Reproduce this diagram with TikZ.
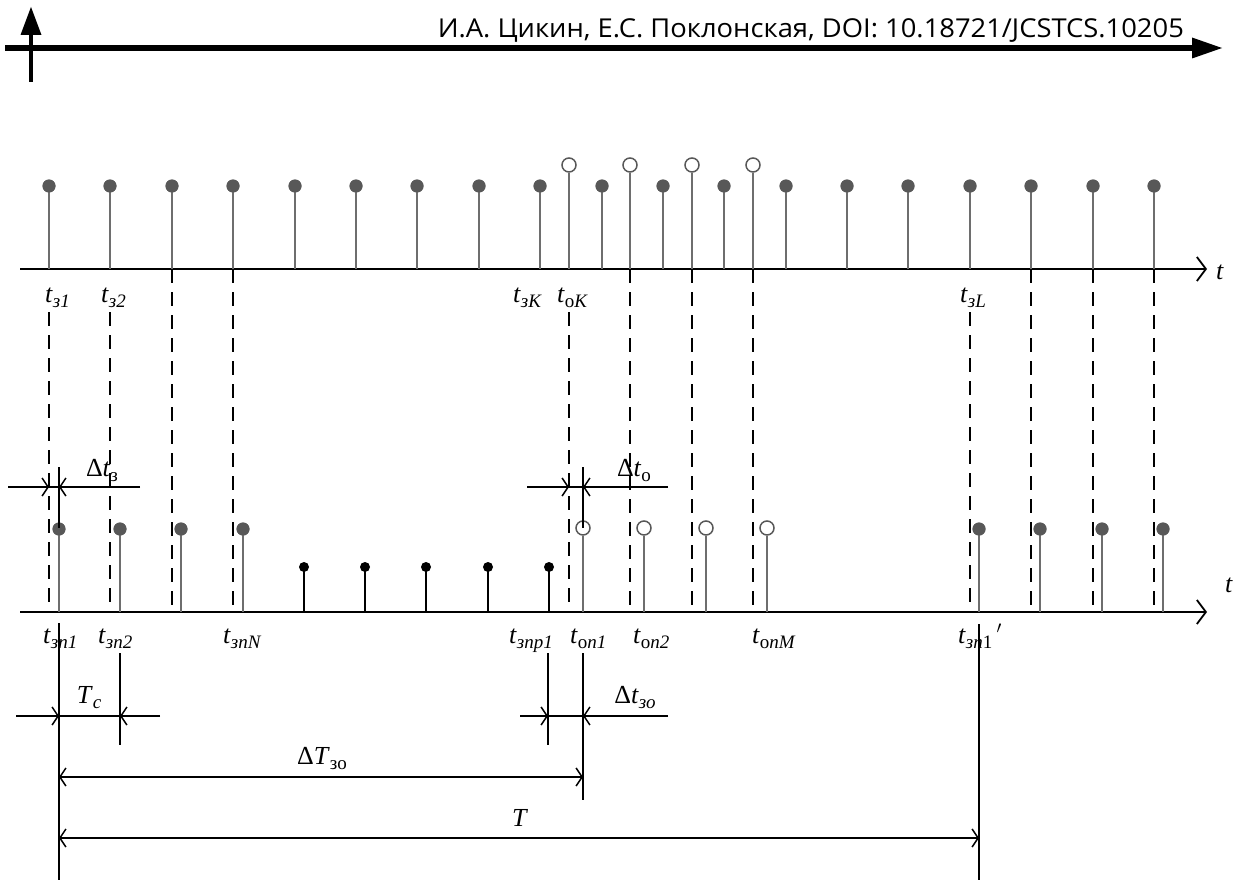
\documentclass[tikz,border=0pt]{standalone}
\usepackage{fontspec}
\usepackage{graphicx}
\setmainfont{Liberation Serif}
\newfontfamily\hdrfont{Open Sans}
\usetikzlibrary{arrows.meta}
\definecolor{dotgray}{HTML}{585858}
\definecolor{stemgray}{HTML}{6E6E6E}
\tikzset{
  axisline/.style={line width=2pt,-{Straight Barb[length=9pt,width=24pt,line width=1.8pt]}},
  stemline/.style={draw=stemgray,line width=2pt},
  blackstem/.style={draw=black,line width=2pt},
  dashv/.style={line width=2pt,dash pattern=on 14pt off 9pt},
  solidv/.style={line width=1.6pt},
  dimline/.style={line width=1.8pt},
  dimtip/.style={line width=1.8pt,-{Straight Barb[length=6pt,width=18pt,line width=1.5pt]}},
  gdot/.style={circle,fill=dotgray,inner sep=0pt,minimum width=12pt,minimum height=13pt},
  bdot/.style={circle,fill=black,inner sep=0pt,minimum size=10pt},
  odot/.style={circle,draw=dotgray,line width=1.5pt,fill=white,inner sep=0pt,minimum width=12pt,minimum height=14pt},
  lbl/.style={font=\fontsize{26}{28}\selectfont,inner sep=0pt,anchor=base west},
  dlbl/.style={font=\fontsize{26}{28}\selectfont,inner sep=0pt,anchor=base}
}
\newcommand{\lsub}[1]{\raisebox{-5pt}{\fontsize{19}{21}\selectfont #1}}
\newcommand{\ti}[1]{\textit{t}\lsub{#1}}
\begin{document}
\begin{tikzpicture}[x=1pt,y=-1pt]
\useasboundingbox (0,0) rectangle (1245,880);
% header
\coordinate (hl) at (5,48);
\coordinate (hr) at (1195,48);
\draw[line width=6pt] (hl) -- (hr);
\fill (1192,37.5) -- (1222,48) -- (1192,58.5) -- cycle;
\coordinate (vb) at (31,82);
\coordinate (vt) at (31,34);
\draw[line width=4.5pt] (vb) -- (vt);
\fill (20.5,35) -- (31,7) -- (41.5,35) -- cycle;
\node[anchor=base east,inner sep=0pt,font=\hdrfont\fontsize{26}{28}\selectfont] (hdr) at (1184,38) {\resizebox{746pt}{\height}{И.А. Цикин, Е.С. Поклонская, DOI: 10.18721/JCSTCS.10205}};

% top axis
\coordinate (ta0) at (20,269);
\coordinate (ta1) at (1207,269);
\draw[axisline] (ta0) -- (ta1);
\node[lbl] (tt) at (1216,279) {\textit{t}};
% top filled stems
\foreach \xx [count=\i] in {49,110,172,233,295,356,417,479,540,602,663,724,786,847,908,970,1031,1093,1154}{
  \coordinate (tb\i) at (\xx,269);
  \node[gdot] (td\i) at (\xx,186) {};
  \draw[stemline] (tb\i) -- (td\i.center);
  \node[gdot] at (\xx,186) {};
}
% top open circles
\foreach \xx [count=\i] in {569,630,692,753}{
  \coordinate (ob\i) at (\xx,269);
  \node[odot] (oc\i) at (\xx,165) {};
  \draw[stemline] (ob\i) -- (oc\i.south);
}
% top labels
\node[lbl] (l1) at (45,302) {\ti{\textit{з1}}};
\node[lbl] (l2) at (101,302) {\ti{\textit{з2}}};
\node[lbl] (l3) at (513,302) {\ti{\textit{зK}}};
\node[lbl] (l4) at (557,302) {\ti{о\textit{K}}};
\node[lbl] (l5) at (960,302) {\ti{\textit{зL}}};

% bottom axis
\coordinate (ba0) at (20,612);
\coordinate (ba1) at (1207,612);
\draw[axisline] (ba0) -- (ba1);
\node[lbl] (bt) at (1225,592) {\textit{t}};

% dashed verticals
\foreach \xx/\ys in {49/312,110/312,172/269,233/269,569/312,630/269,692/269,753/269,970/312,1031/269,1093/269,1154/269}{
  \draw[dashv] (\xx,\ys) -- (\xx,612);
}

% bottom gray stems
\foreach \xx [count=\k] in {59,120,181,243,979,1040,1102,1163}{
  \coordinate (bgb\k) at (\xx,612);
  \node[gdot] (bg\k) at (\xx,529) {};
  \draw[stemline] (bgb\k) -- (bg\k.center);
  \node[gdot] at (\xx,529) {};
}
% bottom black stems
\foreach \xx [count=\i] in {304,365,426,488,549}{
  \coordinate (bbb\i) at (\xx,612);
  \node[bdot] (bb\i) at (\xx,567) {};
  \draw[blackstem] (bbb\i) -- (bb\i.center);
}
% bottom open circles
\foreach \xx [count=\i] in {583,644,706,767}{
  \coordinate (bob\i) at (\xx,612);
  \node[odot] (bo\i) at (\xx,528) {};
  \draw[stemline] (bob\i) -- (bo\i.south);
}
% bottom labels
\node[lbl] (m1) at (43,643) {\ti{\textit{зп1}}};
\node[lbl] (m2) at (98,643) {\ti{\textit{зп2}}};
\node[lbl] (m3) at (223,643) {\ti{\textit{зпN}}};
\node[lbl] (m4) at (509,643) {\ti{\textit{зпр1}}};
\node[lbl] (m5) at (570,643) {\ti{о\textit{п1}}};
\node[lbl] (m6) at (633,643) {\ti{о\textit{п2}}};
\node[lbl] (m7) at (752,643) {\ti{о\textit{пM}}};
\node[lbl] (m8) at (958,643) {\ti{\textit{зп}1}\,$'$};

% solid verticals
\draw[solidv] (59,467) -- (59,528);
\draw[solidv] (583,467) -- (583,528);
\draw[solidv] (59,623) -- (59,880);
\draw[solidv] (120,653) -- (120,745);
\draw[solidv] (548,653) -- (548,745);
\draw[solidv] (583,653) -- (583,800);
\draw[solidv] (979,624) -- (979,880);

% dimension: delta t z
\coordinate (a1) at (8,487); \coordinate (a2) at (49,487);
\coordinate (a3) at (59,487); \coordinate (a4) at (140,487);
\draw[dimline] (a1) -- (a4);
\draw[dimtip] (a1) -- (a2);
\draw[dimtip] (a4) -- (a3);
\node[dlbl] (dz) at (102,476) {Δ\textit{t}\lsub{з}};
% dimension: delta t o
\coordinate (b1) at (527,487); \coordinate (b2) at (569,487);
\coordinate (b3) at (583,487); \coordinate (b4) at (668,487);
\draw[dimline] (b1) -- (b4);
\draw[dimtip] (b1) -- (b2);
\draw[dimtip] (b4) -- (b3);
\node[dlbl] (do) at (634,476) {Δ\textit{t}\lsub{о}};
% dimension: Tc
\coordinate (c1) at (16,716); \coordinate (c2) at (59,716);
\coordinate (c3) at (120,716); \coordinate (c4) at (160,716);
\draw[dimline] (c1) -- (c4);
\draw[dimtip] (c1) -- (c2);
\draw[dimtip] (c4) -- (c3);
\node[dlbl] (tc) at (89,703) {\textit{T}\lsub{\textit{c}}};
% dimension: delta t zo
\coordinate (e1) at (520,716); \coordinate (e2) at (548,716);
\coordinate (e3) at (583,716); \coordinate (e4) at (668,716);
\draw[dimline] (e1) -- (e4);
\draw[dimtip] (e1) -- (e2);
\draw[dimtip] (e4) -- (e3);
\node[dlbl] (dzo) at (635,703) {Δ\textit{t}\lsub{\textit{зо}}};
% dimension: Delta T zo
\coordinate (f1) at (59,777); \coordinate (f2) at (583,777);
\draw[dimline,{Straight Barb[length=6pt,width=18pt,line width=1.5pt]}-{Straight Barb[length=6pt,width=18pt,line width=1.5pt]}] (f1) -- (f2);
\node[dlbl] (dT) at (322,764) {Δ\textit{T}\lsub{зо}};
% dimension: T
\coordinate (g1) at (59,838); \coordinate (g2) at (979,838);
\draw[dimline,{Straight Barb[length=6pt,width=18pt,line width=1.5pt]}-{Straight Barb[length=6pt,width=18pt,line width=1.5pt]}] (g1) -- (g2);
\node[dlbl] (TT) at (520,826) {\textit{T}};
\end{tikzpicture}
\end{document}
